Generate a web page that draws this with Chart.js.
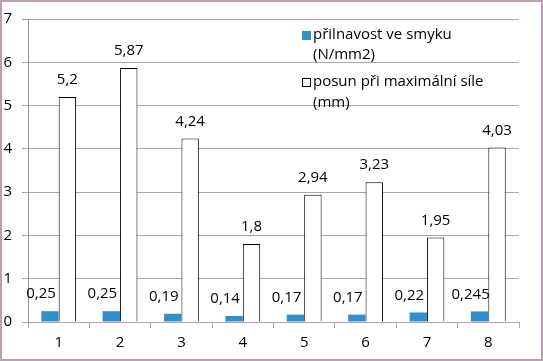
<!DOCTYPE html>
<html>
<head>
<meta charset="utf-8">
<script src="https://cdn.jsdelivr.net/npm/chart.js@4"></script>
<style>
  html, body { margin: 0; padding: 0; background: #fff; }
  canvas { display: block; }
</style>
</head>
<body>
<canvas id="graf" width="543" height="361"></canvas>
<script>
// data
const kategorie = ['1', '2', '3', '4', '5', '6', '7', '8'];
const prilnavost = [0.25, 0.25, 0.19, 0.14, 0.17, 0.17, 0.22, 0.245];
const posun = [5.2, 5.87, 4.24, 1.8, 2.94, 3.23, 1.95, 4.03];
const popisky = [['přilnavost ve smyku', '(N/mm2)'], ['posun při maximální síle', '(mm)']];
const osaY = [0, 1, 2, 3, 4, 5, 6, 7];

const pismo = { family: 'Open Sans', size: 15 };
const mrizka = '#b99db2';

// hodnoty nad sloupci (desetinna carka)
const hodnoty = {
    id: 'hodnoty',
    afterDatasetsDraw(chart) {
        const ctx = chart.ctx;
        ctx.save();
        ctx.font = '15px "Open Sans"';
        ctx.fillStyle = '#000';
        ctx.textAlign = 'center';
        ctx.textBaseline = 'middle';
        chart.data.datasets.forEach((ds, i) => {
            chart.getDatasetMeta(i).data.forEach((bar, j) => {
                const dx = i === 0 ? -9 : 0;
                ctx.fillText(String(ds.data[j]).replace('.', ','), bar.x + dx, bar.y - 17);
            });
        });
        ctx.restore();
    }
};

// legenda vpravo nahore + ramecek
const legenda = {
    id: 'legenda',
    afterDraw(chart) {
        const ctx = chart.ctx;
        ctx.save();
        ctx.font = '15px "Open Sans"';
        ctx.fillStyle = '#000';
        ctx.textBaseline = 'middle';
        const radky = [[35, 55], [82, 103]];
        chart.data.datasets.forEach((ds, i) => {
            const y = radky[i][0];
            if (i === 0) {
                ctx.fillStyle = ds.backgroundColor;
                ctx.fillRect(302, y - 4, 9, 9);
            } else {
                ctx.fillStyle = '#fff';
                ctx.fillRect(302.5, y - 3.5, 8, 8);
                ctx.strokeStyle = '#000';
                ctx.lineWidth = 1;
                ctx.strokeRect(302.5, y - 3.5, 8, 8);
            }
            ctx.fillStyle = '#000';
            popisky[i].forEach((t, k) => ctx.fillText(t, 313, radky[i][k]));
        });
        ctx.strokeStyle = '#b8a0b4';
        ctx.lineWidth = 2;
        ctx.strokeRect(1, 1, 541, 359);
        ctx.restore();
    }
};

new Chart(document.getElementById('graf'), {
    type: 'bar',
    data: {
        labels: kategorie,
        datasets: [{
            label: popisky[0].join(' '),
            data: prilnavost,
            backgroundColor: '#3190cc',
            borderWidth: 0
        }, {
            label: popisky[1].join(' '),
            data: posun,
            backgroundColor: '#fff',
            borderColor: '#000',
            borderWidth: 1
        }]
    },
    options: {
        responsive: false,
        animation: false,
        events: [],
        layout: { padding: { top: 18, right: 24, left: 0, bottom: 0 } },
        datasets: { bar: { categoryPercentage: 0.567, barPercentage: 1 } },
        plugins: { legend: { display: false }, tooltip: { enabled: false } },
        scales: {
            x: {
                grid: { drawOnChartArea: false, drawTicks: true, tickLength: 6, color: mrizka, offset: true },
                border: { color: mrizka },
                ticks: { color: '#000', font: pismo, padding: 6 },
                afterFit: s => { s.height = 39; }
            },
            y: {
                min: osaY[0],
                max: osaY[osaY.length - 1],
                afterBuildTicks: s => { s.ticks = osaY.map(v => ({ value: v })); },
                ticks: { color: '#000', font: pismo, padding: 10 },
                grid: { color: mrizka, tickLength: 6 },
                border: { color: '#9a8aa0' },
                afterFit: s => { s.width = 28; }
            }
        }
    },
    plugins: [hodnoty, legenda]
});
</script>
</body>
</html>
